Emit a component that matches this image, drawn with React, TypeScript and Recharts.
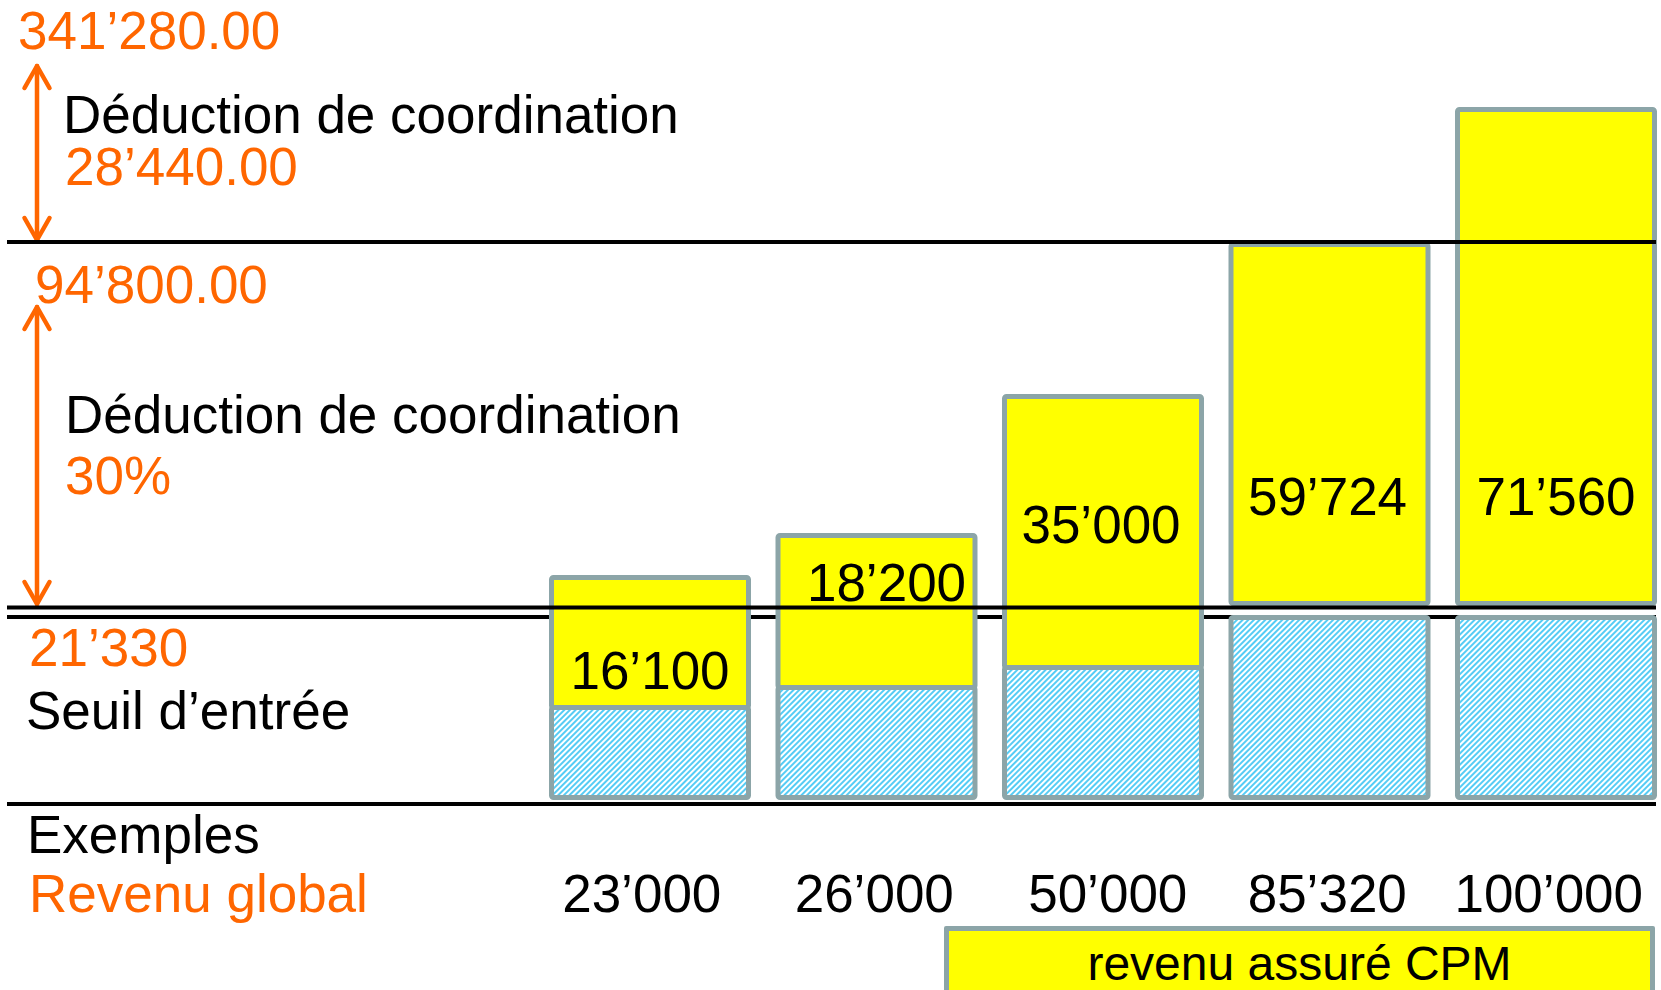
import React from "react";
import {
  ComposedChart,
  Bar,
  XAxis,
  YAxis,
  ReferenceLine,
  LabelList,
  Legend,
  Customized,
} from "recharts";

// ---------------- data (schematic heights) ----------------
const examples = ["23’000", "26’000", "50’000", "85’320", "100’000"];
const seuilHeights = [90, 110, 130, 180, 180];
const ecartHeights = [0, 0, 0, 14, 14];
const cpmHeights = [130, 152, 271, 359, 494];
const cpmLabels = ["16’100", "18’200", "35’000", "59’724", "71’560"];
const linesOverBars = [555.5, 190];
const linesUnderBars = [180.5, -6.5];

const data = examples.map((ex, i) => ({
  ex,
  seuil: seuilHeights[i],
  ecart: ecartHeights[i],
  cpm: cpmHeights[i],
  cpmLabel: cpmLabels[i],
}));

// ---------------- layout / style ----------------
const W = 1661;
const H = 990;
const FONT = "'Liberation Sans', Arial, Helvetica, sans-serif";
const ORANGE = "#FF6600";
const YELLOW = "#FFFF00";
const BORDER = "#8CA5A8";
const HATCH = "#55CCF5";
const LINE_X0 = 7;
const LINE_X1 = 1656;
const FS = 53;
const labelRise = [19, 87, 125, 89, 89];
const labelShift = [0, 10, -2, -2, 0];
const tickShift = [-8, -2, 5, -2, -7];
const TICK_OFFSET = 94.5;

const leftTexts = [
  { t: "341’280.00", x: 18, y: 49, c: ORANGE },
  { t: "Déduction de coordination", x: 63, y: 133, c: "#000" },
  { t: "28’440.00", x: 65, y: 185, c: ORANGE },
  { t: "94’800.00", x: 35, y: 303, c: ORANGE },
  { t: "Déduction de coordination", x: 65, y: 433, c: "#000" },
  { t: "30%", x: 65, y: 494, c: ORANGE },
  { t: "21’330", x: 29, y: 666, c: ORANGE },
  { t: "Seuil d’entrée", x: 26, y: 729, c: "#000" },
  { t: "Exemples", x: 27, y: 853, c: "#000" },
  { t: "Revenu global", x: 29, y: 912, c: ORANGE },
];

const arrows = [
  { x: 37, y1: 66, y2: 240 },
  { x: 37, y1: 307, y2: 604 },
];

const Arrow = ({ x, y1, y2 }: { x: number; y1: number; y2: number }) => {
  const w = 12.5;
  const l = 22;
  return (
    <g stroke={ORANGE} strokeWidth={4.5} fill="none" strokeLinecap="round" strokeLinejoin="round">
      <line x1={x} y1={y1} x2={x} y2={y2} />
      <polyline points={`${x - w},${y1 + l} ${x},${y1} ${x + w},${y1 + l}`} />
      <polyline points={`${x - w},${y2 - l} ${x},${y2} ${x + w},${y2 - l}`} />
    </g>
  );
};

const Annotations = () => (
  <g>
    {leftTexts.map((d, i) => (
      <text key={i} x={d.x} y={d.y} fill={d.c} fontSize={FS} fontFamily={FONT}>
        {d.t}
      </text>
    ))}
    {arrows.map((a, i) => (
      <Arrow key={i} {...a} />
    ))}
  </g>
);

const Defs = () => (
  <defs>
    <pattern id="hatch" width="4" height="4" patternUnits="userSpaceOnUse" patternTransform="rotate(45)">
      <rect width="4" height="4" fill="#ffffff" />
      <rect width="2" height="4" fill={HATCH} />
    </pattern>
  </defs>
);

const lineShape = (props: any) => (
  <line x1={LINE_X0} x2={LINE_X1} y1={props.y1} y2={props.y2} stroke="#000" strokeWidth={4} />
);

const XTick = (props: any) => {
  const { x, y, payload } = props;
  const i = examples.indexOf(payload.value);
  return (
    <text
      x={x + (i >= 0 ? tickShift[i] : 0)}
      y={y + TICK_OFFSET}
      textAnchor="middle"
      fontSize={FS}
      fontFamily={FONT}
      fill="#000"
    >
      {payload.value}
    </text>
  );
};

const CpmLabel = (props: any) => {
  const vb = props.viewBox || props;
  const x = vb.x ?? props.x;
  const y = vb.y ?? props.y;
  const width = vb.width ?? props.width;
  const height = vb.height ?? props.height;
  const idx = cpmLabels.indexOf(props.value);
  const i = idx >= 0 ? idx : props.index ?? 0;
  return (
    <text
      x={x + width / 2 + labelShift[i]}
      y={y + height - labelRise[i]}
      textAnchor="middle"
      fontSize={FS}
      fontFamily={FONT}
      fill="#000"
    >
      {props.value}
    </text>
  );
};

const LegendBox = () => (
  <div
    style={{
      boxSizing: "border-box",
      width: 711,
      height: 80,
      background: YELLOW,
      border: `5px solid ${BORDER}`,
      borderRadius: 2,
      fontFamily: FONT,
      fontSize: 48,
      lineHeight: "52px",
      paddingTop: 7,
      textAlign: "center",
      color: "#000",
    }}
  >
    revenu assuré CPM
  </div>
);

export default function App() {
  return (
    <div
      style={{
        position: "absolute",
        left: 0,
        top: 0,
        width: W,
        height: H,
        overflow: "hidden",
        background: "#fff",
      }}
    >
      <ComposedChart
        width={W}
        height={H}
        data={data}
        margin={{ top: 77.5, right: -8, bottom: 72.5, left: 536.5 }}
        style={{ fontFamily: FONT }}
      >
        <Defs />
        <XAxis
          dataKey="ex"
          type="category"
          height={100}
          axisLine={false}
          tickLine={false}
          tickSize={0}
          tickMargin={0}
          interval={0}
          tick={<XTick />}
        />
        <YAxis hide type="number" domain={[-20, 720]} allowDataOverflow />
        {linesUnderBars.map((v) => (
          <ReferenceLine key={`u${v}`} y={v} stroke="#000" strokeWidth={4} shape={lineShape} zIndex={250} />
        ))}
        <Bar
          dataKey="seuil"
          stackId="a"
          fill="url(#hatch)"
          stroke={BORDER}
          strokeWidth={5}
          barSize={197}
          radius={2}
          isAnimationActive={false}
          legendType="none"
        />
        <Bar
          dataKey="ecart"
          stackId="a"
          fill="none"
          stroke="none"
          barSize={197}
          isAnimationActive={false}
          legendType="none"
        />
        <Bar
          dataKey="cpm"
          name="revenu assuré CPM"
          stackId="a"
          fill={YELLOW}
          stroke={BORDER}
          strokeWidth={5}
          barSize={197}
          radius={2}
          isAnimationActive={false}
        >
          <LabelList dataKey="cpmLabel" content={<CpmLabel />} />
        </Bar>
        {linesOverBars.map((v) => (
          <ReferenceLine key={`o${v}`} y={v} stroke="#000" strokeWidth={4} shape={lineShape} zIndex={450} />
        ))}
        <Customized component={<Annotations />} />
        <Legend
          layout="vertical"
          align="center"
          verticalAlign="middle"
          wrapperStyle={{ left: 944, top: 926, width: 711, height: 80 }}
          content={<LegendBox />}
        />
      </ComposedChart>
    </div>
  );
}
